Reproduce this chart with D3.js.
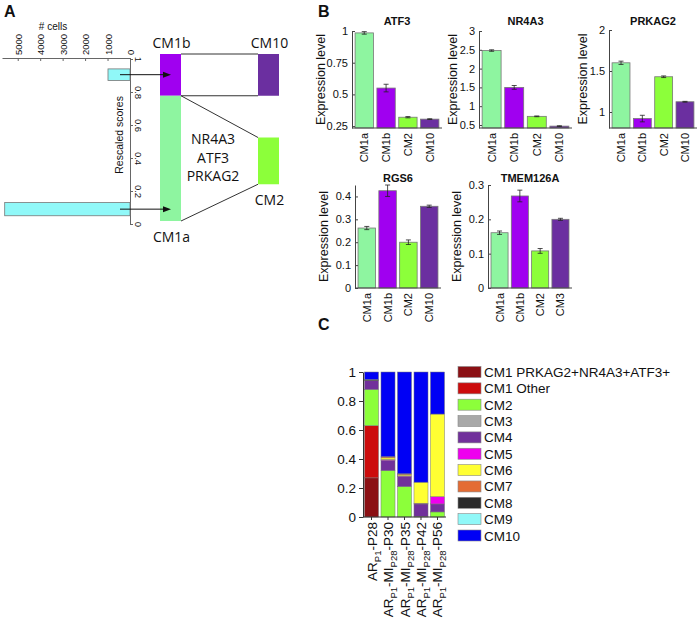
<!DOCTYPE html>
<html><head><meta charset="utf-8">
<script src="https://cdn.jsdelivr.net/npm/d3@7"></script>
<style>
body{margin:0;background:#fff}
svg{display:block}
text{font-family:"Liberation Sans",Arial,sans-serif;fill:#111}
</style>
</head><body>
<svg id="c" width="698" height="622"></svg>
<script>
// ---------------- Panel A data ----------------
const histBinStart = [0.05, 0.87];
const histBinEnd   = [0.13, 0.94];
const histCounts   = [5580, 980];
const cellTicks    = [0, 1000, 2000, 3000, 4000, 5000];
const scoreTicks   = [0, 0.2, 0.4, 0.6, 0.8, 1];
const boxNames  = ["CM1b", "CM1a", "CM10", "CM2"];
const boxColumn = [0, 0, 1, 1];
const boxLow    = [0.75, 0.0, 0.75, 0.22];
const boxHigh   = [1.0, 0.75, 1.0, 0.50];
const markerGenes = ["NR4A3", "ATF3", "PRKAG2"];

// ---------------- Panel B data ----------------
const bCategories    = ["CM1a", "CM1b", "CM2", "CM10"];
const tmemCategories = ["CM1a", "CM1b", "CM2", "CM3"];
const atf3Mean  = [0.985, 0.55, 0.32, 0.305];
const atf3Err   = [0.01, 0.03, 0.005, 0.003];
const nr4a3Mean = [2.48, 1.5, 0.73, 0.47];
const nr4a3Err  = [0.02, 0.05, 0.01, 0.01];
const prkag2Mean = [1.6, 0.92, 1.43, 1.125];
const prkag2Err  = [0.02, 0.04, 0.01, 0.005];
const rgs6Mean  = [0.262, 0.425, 0.2, 0.357];
const rgs6Err   = [0.007, 0.025, 0.01, 0.005];
const tmemMean  = [0.161, 0.268, 0.108, 0.2];
const tmemErr   = [0.005, 0.017, 0.007, 0.003];

// ---------------- Panel C data ----------------
const cSampleMain = ["AR", "AR", "AR", "AR", "AR"];
const cSampleSub1 = ["P1", "P1", "P1", "P1", "P1"];
const cSampleMid  = ["-P28", "-MI", "-MI", "-MI", "-MI"];
const cSampleSub2 = ["", "P28", "P28", "P28", "P28"];
const cSampleEnd  = ["", "-P30", "-P35", "-P42", "-P56"];
const cClusters = ["CM1 PRKAG2+NR4A3+ATF3+", "CM1 Other", "CM2", "CM3", "CM4", "CM5", "CM6", "CM7", "CM8", "CM9", "CM10"];
const fracCM1pos   = [0.27, 0, 0, 0, 0];
const fracCM1other = [0.36, 0, 0, 0, 0];
const fracCM2  = [0.25, 0.32, 0.21, 0.005, 0.035];
const fracCM3  = [0, 0, 0, 0, 0];
const fracCM4  = [0.06, 0.07, 0.07, 0.085, 0.055];
const fracCM5  = [0, 0.006, 0.004, 0.005, 0.05];
const fracCM6  = [0, 0.012, 0.008, 0.145, 0.57];
const fracCM7  = [0, 0.008, 0.006, 0, 0];
const fracCM8  = [0.008, 0, 0, 0, 0];
const fracCM9  = [0, 0, 0, 0, 0];
const fracCM10 = [0.052, 0.584, 0.702, 0.76, 0.29];
const cYTicks = [0, 0.2, 0.4, 0.6, 0.8, 1];

// ---------------- colours ----------------
const colCM1a = "#8ef5a0", colCM1b = "#a000f0", colCM2 = "#8cff3a", colCM10 = "#6b2fa0", colCyan = "#90f8f8";
const clusterColors = ["#8b1014", "#cc0c0c", "#8cff3a", "#a8a8a8", "#71309b", "#ee00ee", "#ffff33", "#e46c34", "#2b2b2b", "#90f8f8", "#0000f5"];

const svg = d3.select("#c");

// panel letters
svg.append("text").attr("x", 4).attr("y", 17).text("A").style("font-weight", "bold").style("font-size", "16px");
svg.append("text").attr("x", 318).attr("y", 17).text("B").style("font-weight", "bold").style("font-size", "16px");
svg.append("text").attr("x", 318).attr("y", 330).text("C").style("font-weight", "bold").style("font-size", "16px");

// ================= Panel A =================
(function(){
  const g = svg.append("g");
  const xCells = d3.scaleLinear().domain([0, 5700]).range([130, 2]);
  const yScore = d3.scaleLinear().domain([0, 1]).range([224, 59]);
  const axisCol = "#666";
  // top axis
  const ax = g.append("g").attr("transform", "translate(0,58)")
    .call(d3.axisTop(xCells).tickValues(cellTicks).tickSizeInner(-3).tickSizeOuter(0).tickFormat(d3.format("d")));
  ax.select(".domain").attr("stroke", axisCol);
  ax.selectAll(".tick line").attr("stroke", axisCol);
  ax.selectAll(".tick text").attr("transform", "translate(3.5,-3) rotate(-90)").attr("x", 0).attr("y", 0)
    .attr("text-anchor", "start").attr("dy", 0).style("font-size", "9.5px").style("font-family", "Liberation Sans").attr("fill", "#333");
  g.append("text").attr("x", 53).attr("y", 30).attr("text-anchor", "middle").style("font-size", "10px").attr("fill", "#333").text("# cells");
  // vertical score axis
  const ay = g.append("g").attr("transform", "translate(130,0)")
    .call(d3.axisRight(yScore).tickValues(scoreTicks).tickSizeInner(3).tickSizeOuter(0).tickFormat(d => d === 0 || d === 1 ? d3.format("d")(d) : d3.format(".1f")(d)));
  ay.select(".domain").attr("stroke", axisCol);
  ay.selectAll(".tick line").attr("stroke", axisCol);
  ay.selectAll(".tick text").attr("transform", "translate(5,0) rotate(90)").attr("x", 0).attr("y", 0).attr("dy", 0)
    .attr("text-anchor", "middle").style("font-size", "9.5px").style("font-family", "Liberation Sans").attr("fill", "#333");
  g.append("text").attr("transform", `translate(123,${yScore(0.54)}) rotate(-90)`).attr("text-anchor", "middle")
    .style("font-size", "10.5px").attr("fill", "#333").text("Rescaled scores");
  // histogram bars
  g.selectAll("rect.hist").data(histCounts).join("rect").attr("class", "hist")
    .attr("x", d => xCells(d)).attr("width", d => 130 - xCells(d))
    .attr("y", (d, i) => yScore(histBinEnd[i])).attr("height", (d, i) => yScore(histBinStart[i]) - yScore(histBinEnd[i]))
    .attr("fill", colCyan).attr("stroke", "#777").attr("stroke-width", 0.8);

  // diagram
  const yD = d3.scaleLinear().domain([0, 1]).range([221, 54]);
  const colX = [160, 258], colW = 21;
  const boxCol = [colCM1b, colCM1a, colCM10, colCM2];
  const lc = "#333";
  g.append("line").attr("x1", colX[0] + colW).attr("x2", colX[1]).attr("y1", yD(1)).attr("y2", yD(1)).attr("stroke", lc);
  g.append("line").attr("x1", colX[0] + colW).attr("x2", colX[1]).attr("y1", yD(0.75)).attr("y2", yD(0.75)).attr("stroke", lc);
  g.append("line").attr("x1", colX[0] + colW).attr("x2", colX[1]).attr("y1", yD(boxHigh[1])).attr("y2", yD(boxHigh[3])).attr("stroke", lc);
  g.append("line").attr("x1", colX[0] + colW).attr("x2", colX[1]).attr("y1", yD(boxLow[1])).attr("y2", yD(boxLow[3])).attr("stroke", lc);
  g.selectAll("rect.box").data(boxNames).join("rect").attr("class", "box")
    .attr("x", (d, i) => colX[boxColumn[i]]).attr("width", colW)
    .attr("y", (d, i) => yD(boxHigh[i])).attr("height", (d, i) => yD(boxLow[i]) - yD(boxHigh[i]))
    .attr("fill", (d, i) => boxCol[i]);
  const lblY = [48, 242, 48, 205];
  g.selectAll("text.box").data(boxNames).join("text").attr("class", "box")
    .attr("x", (d, i) => colX[boxColumn[i]] + colW / 2 + 1).attr("y", (d, i) => lblY[i])
    .attr("text-anchor", "middle").style("font-size", "14px").style("font-family", "Open Sans").text(d => d);
  g.selectAll("text.gene").data(markerGenes).join("text").attr("class", "gene")
    .attr("x", 213).attr("y", (d, i) => 144 + i * 18.5).attr("text-anchor", "middle")
    .style("font-size", "14px").style("font-family", "Open Sans").text(d => d);

  // arrows (drawn on top of the boxes)
  const arrY = histCounts.map((d, i) => yScore((histBinStart[i] + histBinEnd[i]) / 2));
  g.selectAll("line.arr").data(arrY).join("line").attr("class", "arr")
    .attr("x1", 120).attr("x2", 164).attr("y1", d => d).attr("y2", d => d)
    .attr("stroke", "#111").attr("stroke-width", 1);
  g.selectAll("path.arrh").data(arrY).join("path").attr("class", "arrh")
    .attr("d", d => `M163,${d - 3}L171,${d}L163,${d + 3}Z`).attr("fill", "#111");
})();

// ================= Panel B =================
function barPanel(opt){
  const g = svg.append("g");
  const x = d3.scaleBand().domain(opt.cats).range([opt.x0, opt.x1]).paddingInner(0.16).paddingOuter(0.05);
  const y = d3.scaleLinear().domain(opt.dom).range([opt.yb, opt.yt]);
  const colors = [colCM1a, colCM1b, colCM2, colCM10];
  g.selectAll("rect").data(opt.mean).join("rect")
    .attr("x", (d, i) => x(opt.cats[i])).attr("width", x.bandwidth())
    .attr("y", d => y(d)).attr("height", d => opt.yb - y(d))
    .attr("fill", (d, i) => colors[i]).attr("stroke", "#777").attr("stroke-width", 0.8);
  const eb = g.selectAll("g.eb").data(opt.mean).join("g").attr("class", "eb");
  eb.append("line").attr("x1", (d, i) => x(opt.cats[i]) + x.bandwidth() / 2).attr("x2", (d, i) => x(opt.cats[i]) + x.bandwidth() / 2)
    .attr("y1", (d, i) => y(d - opt.err[i])).attr("y2", (d, i) => y(d + opt.err[i])).attr("stroke", "#222").attr("stroke-width", 0.8);
  [-1, 1].forEach(s => {
    eb.append("line").attr("x1", (d, i) => x(opt.cats[i]) + x.bandwidth() / 2 - 2.5).attr("x2", (d, i) => x(opt.cats[i]) + x.bandwidth() / 2 + 2.5)
      .attr("y1", (d, i) => y(d + s * opt.err[i])).attr("y2", (d, i) => y(d + s * opt.err[i])).attr("stroke", "#222").attr("stroke-width", 0.8);
  });
  const axX = opt.x0 - 2;
  const ay = g.append("g").attr("transform", `translate(${axX},0)`)
    .call(d3.axisLeft(y).tickValues(opt.ticks).tickSizeInner(-3).tickSizeOuter(0).tickPadding(4).tickFormat(opt.fmt));
  ay.select(".domain").attr("stroke", "#444");
  ay.selectAll(".tick line").attr("stroke", "#444");
  ay.selectAll(".tick text").style("font-size", "11px").style("font-family", "Liberation Sans").attr("fill", "#222");
  g.append("line").attr("x1", axX).attr("x2", opt.x1 + 2).attr("y1", opt.yb).attr("y2", opt.yb).attr("stroke", "#444");
  g.selectAll("text.xl").data(opt.cats).join("text").attr("class", "xl")
    .attr("transform", d => `translate(${x(d) + x.bandwidth() / 2 + 4},${opt.yb + 5}) rotate(-90)`)
    .attr("text-anchor", "end").style("font-size", "11px").attr("fill", "#222").text(d => d);
  g.append("text").attr("x", (opt.x0 + opt.x1) / 2).attr("y", opt.titleY).attr("text-anchor", "middle")
    .style("font-size", "11px").style("font-weight", "bold").text(opt.title);
  g.append("text").attr("transform", `translate(${axX - opt.labOff},${(opt.yb + opt.yt) / 2}) rotate(-90)`).attr("text-anchor", "middle")
    .style("font-size", "12.5px").attr("fill", "#222").text("Expression level");
}
const fmtG = d => String(d);
barPanel({cats: bCategories, mean: atf3Mean, err: atf3Err, dom: [0.235, 1], ticks: [0.25, 0.5, 0.75, 1], fmt: fmtG,
  x0: 354, x1: 440, yb: 128, yt: 31, title: "ATF3", titleY: 25, labOff: 27});
barPanel({cats: bCategories, mean: nr4a3Mean, err: nr4a3Err, dom: [0.42, 3], ticks: [0.5, 1, 1.5, 2, 2.5, 3], fmt: fmtG,
  x0: 481, x1: 570, yb: 128, yt: 31, title: "NR4A3", titleY: 25, labOff: 22});
barPanel({cats: bCategories, mean: prkag2Mean, err: prkag2Err, dom: [0.805, 2], ticks: [1, 1.5, 2], fmt: fmtG,
  x0: 611, x1: 695, yb: 128, yt: 30, title: "PRKAG2", titleY: 25, labOff: 22});
barPanel({cats: bCategories, mean: rgs6Mean, err: rgs6Err, dom: [0, 0.45], ticks: [0, 0.1, 0.2, 0.3, 0.4], fmt: fmtG,
  x0: 357, x1: 439, yb: 288, yt: 185, title: "RGS6", titleY: 182, labOff: 27});
barPanel({cats: tmemCategories, mean: tmemMean, err: tmemErr, dom: [0, 0.3], ticks: [0, 0.1, 0.2, 0.3], fmt: fmtG,
  x0: 490, x1: 570, yb: 288, yt: 185, title: "TMEM126A", titleY: 182, labOff: 27});

// ================= Panel C =================
(function(){
  const g = svg.append("g");
  const idx = d3.range(cSampleMain.length);
  const x = d3.scaleBand().domain(idx).range([364, 445]).paddingInner(0.15).paddingOuter(0.03);
  const y = d3.scaleLinear().domain([0, 1]).range([517, 372]);
  const fracs = [fracCM1pos, fracCM1other, fracCM2, fracCM3, fracCM4, fracCM5, fracCM6, fracCM7, fracCM8, fracCM9, fracCM10];
  const rows = idx.map(i => { const o = {i}; cClusters.forEach((c, k) => o[c] = fracs[k][i]); return o; });
  const series = d3.stack().keys(cClusters)(rows);
  g.selectAll("g.s").data(series).join("g").attr("class", "s").attr("fill", (d, k) => clusterColors[k])
    .selectAll("rect").data(d => d.filter(p => p[1] - p[0] > 0)).join("rect")
    .attr("x", d => x(d.data.i)).attr("width", x.bandwidth())
    .attr("y", d => y(d[1])).attr("height", d => y(d[0]) - y(d[1]))
    .attr("stroke", "#777").attr("stroke-width", 0.5);
  const ay = g.append("g").attr("transform", "translate(363,0)")
    .call(d3.axisLeft(y).tickValues(cYTicks).tickSize(4).tickSizeOuter(0).tickFormat(d => String(d)));
  ay.select(".domain").attr("stroke", "#333");
  ay.selectAll(".tick line").attr("stroke", "#333");
  ay.selectAll(".tick text").style("font-size", "13.5px").style("font-family", "Liberation Sans").attr("fill", "#222");
  const axb = g.append("g").attr("transform", "translate(0,517)")
    .call(d3.axisBottom(x).tickSize(3).tickSizeOuter(0).tickFormat(""));
  axb.select(".domain").attr("stroke", "#333").attr("d", "M363,0H446");
  axb.selectAll(".tick line").attr("stroke", "#333");
  const lab = g.selectAll("text.xl").data(idx).join("text").attr("class", "xl")
    .attr("transform", i => `translate(${x(i) + x.bandwidth() / 2 + 5},522) rotate(-90)`)
    .attr("text-anchor", "end").style("font-size", "13.5px").attr("fill", "#222");
  lab.append("tspan").text(i => cSampleMain[i]);
  lab.append("tspan").attr("dy", 4).style("font-size", "9.5px").text(i => cSampleSub1[i]);
  lab.append("tspan").attr("dy", -4).text(i => cSampleMid[i]);
  lab.filter(i => cSampleSub2[i]).append("tspan").attr("dy", 4).style("font-size", "9.5px").text(i => cSampleSub2[i]);
  lab.filter(i => cSampleEnd[i]).append("tspan").attr("dy", -4).text(i => cSampleEnd[i]);
  const lg = g.selectAll("g.lg").data(cClusters).join("g").attr("class", "lg")
    .attr("transform", (d, k) => `translate(458,${372 + k * 16.35})`);
  lg.append("rect").attr("x", 0).attr("y", -5.5).attr("width", 23).attr("height", 11)
    .attr("fill", (d, k) => clusterColors[k]).attr("stroke", "#888").attr("stroke-width", 0.6);
  lg.append("text").attr("x", 26).attr("y", 5).style("font-size", "13.5px").attr("fill", "#222").text(d => d);
})();
</script>
</body></html>
